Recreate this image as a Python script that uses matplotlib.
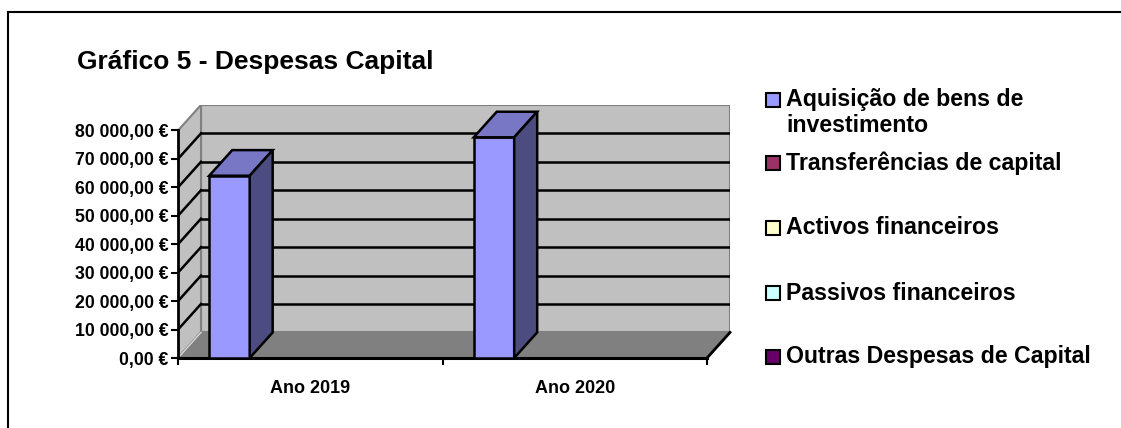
import numpy as np
import matplotlib.pyplot as plt
from matplotlib.patches import Polygon, Rectangle
from matplotlib.lines import Line2D

plt.rcParams['font.family'] = ['Liberation Sans', 'DejaVu Sans']
plt.rcParams['font.weight'] = 'bold'

# Data
categories = ["Ano 2019", "Ano 2020"]
series_names = ["Aquisição de bens de\ninvestimento", "Transferências de capital",
                "Activos financeiros", "Passivos financeiros", "Outras Despesas de Capital"]
series_colors = ["#9999FF", "#993366", "#FFFFCC", "#CCFFFF", "#660066"]
top_colors = ["#7777C6", "#772850", "#CCCCA3", "#A3CCCC", "#4D004D"]
side_colors = ["#4C4C80", "#4D1A33", "#808066", "#668080", "#330033"]
values = [
    [64100, 77600],  # Aquisição de bens de investimento
    [0, 0],          # Transferências de capital
    [0, 0],          # Activos financeiros
    [0, 0],          # Passivos financeiros
    [0, 0],          # Outras Despesas de Capital
]
yticks = np.arange(0, 80001, 10000)

# 3D depth offsets in data units
dx = 0.087
dy = 9000
ymax = 80000
ncat = len(categories)
gap = 0.118
bw = 0.153

W, H = 1121, 428
fig = plt.figure(figsize=(W / 100, H / 100), dpi=100)

# axes: front plane origin at pixel (178, 358)
px_per_cat = (707 - 178) / ncat
px_per_val = (358 - 130.5) / ymax
ax_w = (ncat + dx) * px_per_cat
ax_h = (ymax + dy) * px_per_val
ax = fig.add_axes([178 / W, (H - 358) / H, ax_w / W, ax_h / H])
ax.set_xlim(0, ncat + dx)
ax.set_ylim(0, ymax + dy)
for s in ax.spines.values():
    s.set_visible(False)
ax.patch.set_visible(False)

wall = "#C0C0C0"
wall_edge = "#808080"
floor = "#808080"

# back wall
ax.add_patch(Polygon([(dx, dy), (ncat + dx, dy), (ncat + dx, ymax + dy), (dx, ymax + dy)],
                     closed=True, facecolor=wall, edgecolor=wall_edge, lw=1.5, zorder=1))
# side wall
ax.add_patch(Polygon([(0, 0), (dx, dy), (dx, ymax + dy), (0, ymax)],
                     closed=True, facecolor=wall, edgecolor=wall_edge, lw=1.5, zorder=1))
# floor
ax.add_patch(Polygon([(0, 0), (ncat, 0), (ncat + dx, dy), (dx, dy)],
                     closed=True, facecolor=floor, edgecolor=wall_edge, lw=1.5, zorder=1))

# gridlines
for yv in yticks[1:-1]:
    ax.plot([dx, ncat + dx], [yv + dy, yv + dy], color="black", lw=1.8, zorder=2)
    ax.plot([0, dx], [yv, yv + dy], color="black", lw=1.8, zorder=2)
ax.plot([0, dx], [0, dy], color="#D8D8D8", lw=1, zorder=2)

# front axis lines
ax.plot([0, 0], [0, ymax], color="black", lw=2, zorder=5, clip_on=False)
ax.plot([0, ncat], [0, 0], color="black", lw=2.2, zorder=5, clip_on=False)
ax.plot([ncat, ncat + dx], [0, dy], color="black", lw=2, zorder=5, clip_on=False)

# bars
for j, vals in enumerate(values):
    for i, v in enumerate(vals):
        if v <= 0:
            continue
        x0 = i + gap + j * bw
        ax.bar(x0, v, width=bw, align="edge", color=series_colors[j],
               edgecolor="black", lw=1.8, zorder=6)
        ax.add_patch(Polygon([(x0, v), (x0 + bw, v), (x0 + bw + dx, v + dy), (x0 + dx, v + dy)],
                             closed=True, facecolor=top_colors[j], edgecolor="black", lw=1.8, zorder=6))
        ax.add_patch(Polygon([(x0 + bw, 0), (x0 + bw + dx, dy), (x0 + bw + dx, v + dy), (x0 + bw, v)],
                             closed=True, facecolor=side_colors[j], edgecolor="black", lw=1.8, zorder=6))

# ticks
ax.set_yticks(yticks)
ax.set_yticklabels([f"{int(t):,}".replace(",", " ") + ",00 €" for t in yticks])
ax.tick_params(axis="y", direction="out", length=5, width=1.5, pad=2, labelsize=12.7)
ax.set_xticks(np.arange(ncat) + 0.5)
ax.set_xticklabels(categories)
ax.set_xticks(np.arange(ncat + 1), minor=True)
ax.tick_params(axis="x", which="major", length=0, pad=16, labelsize=13)
ax.tick_params(axis="x", which="minor", direction="out", length=5, width=1.5)
for lbl in ax.get_xticklabels() + ax.get_yticklabels():
    lbl.set_fontweight("bold")

# title
fig.text(77 / W, 1 - 62 / H, "Gráfico 5 - Despesas Capital", fontsize=19,
         fontweight="bold", va="center", ha="left")

# legend (manual)
leg_y = [100, 163, 228, 293, 357]
for name, col, yy in zip(series_names, series_colors, leg_y):
    fig.patches.append(Rectangle((766 / W, 1 - (yy + 7) / H), 14 / W, 14 / H,
                                 transform=fig.transFigure, facecolor=col,
                                 edgecolor="black", lw=1.5))
    fig.text(786 / W, 1 - yy / H, name, fontsize=16.7, fontweight="bold",
             va="center", ha="left", linespacing=1.15)

# multi-line entry: first line centred on its marker
t0 = fig.texts[1]
t0.set_va("top")
t0.set_y(1 - (leg_y[0] - 12) / H)

# outer border
fig.add_artist(Line2D([8 / W, 8 / W], [0, 1 - 12 / H], color="black", lw=1.5))
fig.add_artist(Line2D([8 / W, 1], [1 - 12 / H, 1 - 12 / H], color="black", lw=1.5))

fig.savefig("out.png", dpi=100)
